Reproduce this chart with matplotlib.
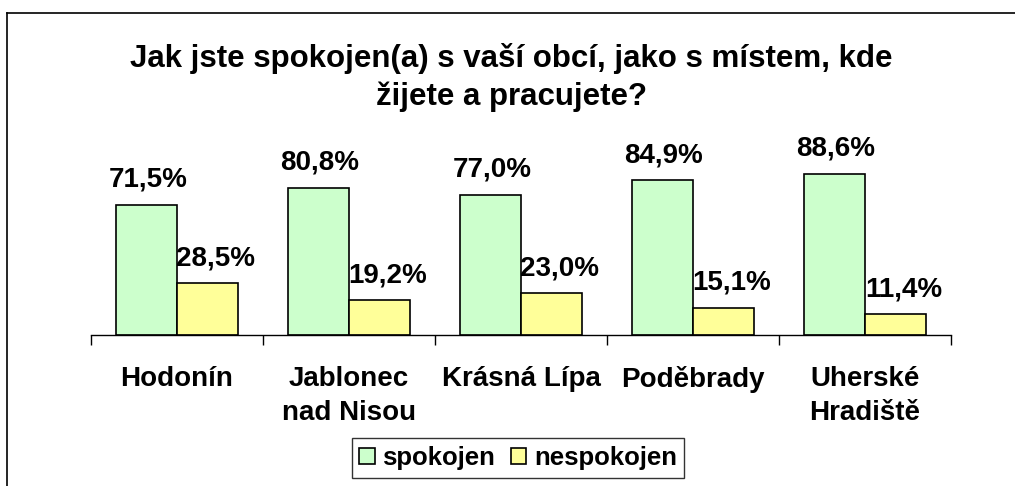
"""Spokojenost s obcí - grouped bar chart."""

import matplotlib

matplotlib.use("Agg")
import matplotlib.pyplot as plt
import numpy as np
from matplotlib.lines import Line2D

CATEGORIES = ["Hodonín", "Jablonec\nnad Nisou", "Krásná Lípa", "Poděbrady", "Uherské\nHradiště"]
SPOKOJEN = [71.5, 80.8, 77.0, 84.9, 88.6]
NESPOKOJEN = [28.5, 19.2, 23.0, 15.1, 11.4]
SERIES_NAMES = ["spokojen", "nespokojen"]
TITLE = "Jak jste spokojen(a) s vaší obcí, jako s místem, kde\nžijete a pracujete?"

plt.rcParams["font.family"] = ["Liberation Sans", "DejaVu Sans"]
plt.rcParams["font.weight"] = "bold"

W, H = 1015, 486
fig = plt.figure(figsize=(W / 100, H / 100), dpi=100)

# outer chart frame (cropped at right and bottom)
fig.add_artist(Line2D([7 / W, 7 / W], [0, 1 - 13 / H], color="black", lw=1.2, transform=fig.transFigure))
fig.add_artist(Line2D([7 / W, 1], [1 - 13 / H, 1 - 13 / H], color="black", lw=1.2, transform=fig.transFigure))

ax = fig.add_axes([91 / W, 1 - 335 / H, 860 / W, 182 / H])

x = np.arange(len(CATEGORIES)) + 0.5
bw = 0.355
b1 = ax.bar(x - bw / 2, SPOKOJEN, bw, color="#CCFFCC", edgecolor="black", linewidth=1.2, label=SERIES_NAMES[0])
b2 = ax.bar(x + bw / 2, NESPOKOJEN, bw, color="#FFFF99", edgecolor="black", linewidth=1.2, label=SERIES_NAMES[1])

# yellow labels sit a little right of their bar centre, as in the original
for bars, vals, dx in ((b1, SPOKOJEN, 1), (b2, NESPOKOJEN, 6)):
    for rect, v in zip(bars, vals):
        ax.annotate(
            f"{v:.1f}%".replace(".", ","),
            (rect.get_x() + rect.get_width() / 2, v),
            xytext=(dx, 13),
            textcoords="offset points",
            ha="center",
            va="baseline",
            fontsize=20,
            fontweight="bold",
            clip_on=False,
        )

ax.set_xlim(0, len(CATEGORIES))
ax.set_ylim(0, 100)
ax.set_xticks(np.arange(len(CATEGORIES) + 1))
ax.set_xticklabels([])
ax.tick_params(axis="x", which="major", length=7, width=1, direction="out", color="black")
ax.set_xticks(x, minor=True)
ax.set_xticklabels(CATEGORIES, minor=True, fontsize=20, fontweight="bold", linespacing=1.4)
ax.tick_params(axis="x", which="minor", length=0, pad=22)
ax.set_yticks([])
for side in ("top", "left", "right"):
    ax.spines[side].set_visible(False)
ax.spines["bottom"].set_linewidth(1)

fig.text(511 / W, 1 - 105 / H, TITLE, ha="center", va="baseline", fontsize=22.5, fontweight="bold", linespacing=1.33,
         multialignment="center")

leg = fig.legend(
    loc="center",
    bbox_to_anchor=(518 / W, 1 - 458 / H),
    ncol=2,
    fontsize=18.5,
    frameon=True,
    fancybox=False,
    edgecolor="black",
    handlelength=0.6,
    handleheight=0.6,
    handletextpad=0.3,
    columnspacing=0.6,
    borderpad=0.3,
    borderaxespad=0,
)
leg.get_frame().set_linewidth(1)
for t in leg.get_texts():
    t.set_fontweight("bold")

fig.savefig("out.png", dpi=100)
